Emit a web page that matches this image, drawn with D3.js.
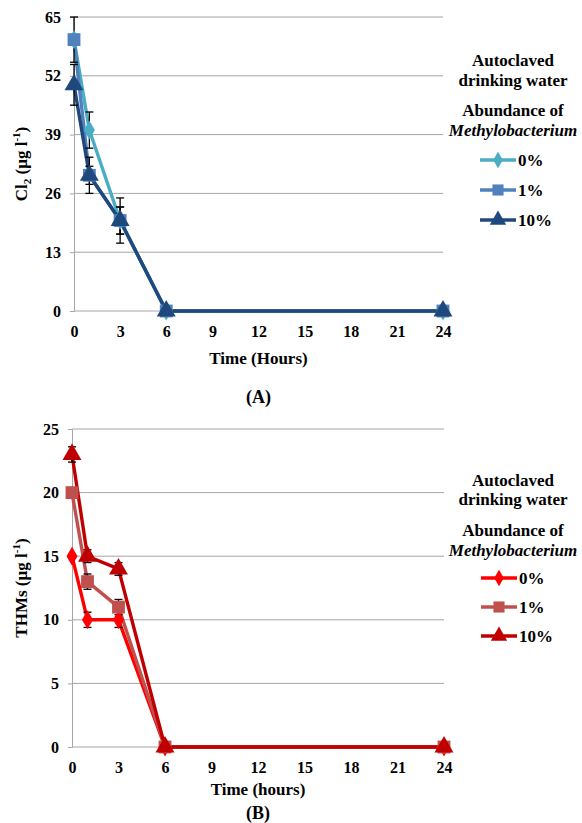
<!DOCTYPE html>
<html>
<head>
<meta charset="utf-8">
<script src="https://cdnjs.cloudflare.com/ajax/libs/d3/7.8.5/d3.min.js"></script>
<style>
  html, body { margin: 0; padding: 0; background: #fff; }
  svg { display: block; }
</style>
</head>
<body>
<svg id="chart" width="582" height="823"></svg>
<script>
// Sampling times (hours)
const hours = [0, 1, 3, 6, 24];
const xTicks = [0, 3, 6, 9, 12, 15, 18, 21, 24];
const abundanceLabels = ["0%", "1%", "10%"];

// Panel A: residual chlorine (µg l-1)
const cl2Ticks = [0, 13, 26, 39, 52, 65];
const cl2_0 = [60, 40, 20, 0, 0];
const cl2_1 = [60, 30, 20, 0, 0];
const cl2_10 = [50, 30, 20, 0, 0];
const cl2Err_0 = [0, 4, 3, 0, 0];
const cl2Err_1 = [5, 2, 5, 0, 0];
const cl2Err_10 = [4.5, 4, 3, 0, 0];
const cl2Colors = ["#4BACC6", "#4F81BD", "#1F497D"];

// Panel B: trihalomethanes (µg l-1)
const thmTicks = [0, 5, 10, 15, 20, 25];
const thm_0 = [15, 10, 10, 0, 0];
const thm_1 = [20, 13, 11, 0, 0];
const thm_10 = [23, 15, 14, 0, 0];
const thmErr_0 = [0, 0.6, 0.6, 0, 0];
const thmErr_1 = [0, 0.6, 0.6, 0, 0];
const thmErr_10 = [0.6, 0.5, 0.5, 0, 0];
const thmColors = ["#FF0000", "#C0504D", "#C00000"];

const markerShapes = [d3.symbolDiamond, d3.symbolSquare, d3.symbolTriangle];
const markerSizes = [105, 165, 155];
const FONT = "'Liberation Serif', 'Times New Roman', serif";

const svg = d3.select("#chart");

function txt(sel) {
  return sel.style("font-family", FONT).style("font-weight", "bold").attr("fill", "#000");
}

function drawPanel(opt) {
  const g = svg.append("g");
  const x = d3.scaleLinear().domain([0, 24]).range([opt.left, opt.right]);
  const y = d3.scaleLinear().domain([0, opt.yMax]).range([opt.bottom, opt.top]);

  // horizontal gridlines
  g.append("g").selectAll("line").data(opt.yTicks).join("line")
    .attr("x1", opt.left).attr("x2", opt.right)
    .attr("y1", d => y(d)).attr("y2", d => y(d))
    .attr("stroke", "#A6A6A6").attr("stroke-width", 1);

  // y axis
  const yAxis = g.append("g").attr("transform", `translate(${opt.left},0)`)
    .call(d3.axisLeft(y).tickValues(opt.yTicks).tickSize(4).tickPadding(9));
  yAxis.select(".domain").attr("stroke", "#A6A6A6");
  yAxis.selectAll(".tick line").attr("stroke", "#A6A6A6");
  txt(yAxis.selectAll(".tick text")).style("font-size", "16px");

  // x axis labels (the zero gridline serves as the baseline)
  const xAxis = g.append("g").attr("transform", `translate(0,${opt.bottom})`)
    .call(d3.axisBottom(x).tickValues(xTicks).tickSize(0).tickPadding(15));
  xAxis.select(".domain").remove();
  txt(xAxis.selectAll(".tick text")).style("font-size", "16px");

  // axis titles
  txt(g.append("text")).attr("x", (opt.left + opt.right) / 2).attr("y", opt.xTitleY)
    .attr("text-anchor", "middle").style("font-size", "17px").text(opt.xTitle);
  txt(g.append("text")).attr("x", (opt.left + opt.right) / 2).attr("y", opt.panelY)
    .attr("text-anchor", "middle").style("font-size", "18px").text(opt.panel);

  const yt = txt(g.append("text"))
    .attr("transform", `translate(${opt.yTitleX},${(opt.top + opt.bottom) / 2}) rotate(-90)`)
    .attr("text-anchor", "middle").style("font-size", "17px");
  yt.append("tspan").text(opt.yTitleMain);
  if (opt.yTitleSub) {
    yt.append("tspan").style("font-size", "11px").attr("dy", 4).text(opt.yTitleSub);
    yt.append("tspan").attr("dy", -4).text(" (µg l");
  } else {
    yt.append("tspan").text(" (µg l");
  }
  yt.append("tspan").style("font-size", "11px").attr("dy", -7).text("-1");
  yt.append("tspan").attr("dy", 7).text(")");

  const series = opt.values.map((vals, i) => ({
    color: opt.colors[i],
    shape: markerShapes[i],
    size: markerSizes[i],
    points: hours.map((h, j) => ({ h, v: vals[j], e: opt.errors[i][j] }))
  }));

  const line = d3.line().x(d => x(d.h)).y(d => y(d.v));

  // lines
  g.append("g").selectAll("path").data(series).join("path")
    .attr("d", s => line(s.points))
    .attr("fill", "none").attr("stroke", s => s.color)
    .attr("stroke-width", 3.4).attr("stroke-linejoin", "round");

  // error bars
  const eb = g.append("g").attr("stroke", "#000").attr("stroke-width", 1.3);
  series.forEach(s => {
    s.points.filter(p => p.e > 0).forEach(p => {
      const cx = x(p.h);
      eb.append("line").attr("x1", cx).attr("x2", cx)
        .attr("y1", y(p.v - p.e)).attr("y2", y(p.v + p.e));
      [p.v - p.e, p.v + p.e].forEach(v => {
        eb.append("line").attr("x1", cx - 4).attr("x2", cx + 4)
          .attr("y1", y(v)).attr("y2", y(v));
      });
    });
  });

  // markers
  series.forEach(s => {
    g.append("g").selectAll("path").data(s.points).join("path")
      .attr("transform", d => `translate(${x(d.h)},${y(d.v)})`)
      .attr("d", d3.symbol().type(s.shape).size(s.size))
      .attr("fill", s.color);
  });

  // legend
  const lg = g.append("g");
  opt.legendHead.forEach(t => {
    txt(lg.append("text")).attr("x", opt.legendX).attr("y", t.y)
      .attr("text-anchor", "middle").attr("dominant-baseline", "central")
      .style("font-size", "17px").style("font-style", t.italic ? "italic" : "normal")
      .text(t.text);
  });
  series.forEach((s, i) => {
    const ly = opt.legendRows[i];
    lg.append("line").attr("x1", opt.legendLine[0]).attr("x2", opt.legendLine[1])
      .attr("y1", ly).attr("y2", ly).attr("stroke", s.color).attr("stroke-width", 3.4);
    lg.append("path")
      .attr("transform", `translate(${(opt.legendLine[0] + opt.legendLine[1]) / 2},${ly})`)
      .attr("d", d3.symbol().type(s.shape).size(s.size * 0.75))
      .attr("fill", s.color);
    txt(lg.append("text")).attr("x", opt.legendLine[1] + 2).attr("y", ly)
      .attr("dominant-baseline", "central").style("font-size", "17px")
      .text(abundanceLabels[i]);
  });
}

drawPanel({
  left: 74, right: 443, top: 17, bottom: 311, yMax: 65, yTicks: cl2Ticks,
  values: [cl2_0, cl2_1, cl2_10], errors: [cl2Err_0, cl2Err_1, cl2Err_10], colors: cl2Colors,
  xTitle: "Time (Hours)", xTitleY: 364, panel: "(A)", panelY: 403,
  yTitleMain: "Cl", yTitleSub: "2", yTitleX: 27,
  legendX: 513, legendLine: [480, 516],
  legendHead: [
    { text: "Autoclaved", y: 60 }, { text: "drinking water", y: 80 },
    { text: "Abundance of", y: 110 }, { text: "Methylobacterium", y: 130, italic: true }
  ],
  legendRows: [160, 190, 220]
});

drawPanel({
  left: 72, right: 444, top: 429, bottom: 747, yMax: 25, yTicks: thmTicks,
  values: [thm_0, thm_1, thm_10], errors: [thmErr_0, thmErr_1, thmErr_10], colors: thmColors,
  xTitle: "Time (hours)", xTitleY: 795, panel: "(B)", panelY: 819,
  yTitleMain: "THMs", yTitleSub: null, yTitleX: 27,
  legendX: 513, legendLine: [481, 517],
  legendHead: [
    { text: "Autoclaved", y: 480 }, { text: "drinking water", y: 499 },
    { text: "Abundance of", y: 530 }, { text: "Methylobacterium", y: 550, italic: true }
  ],
  legendRows: [578, 607, 636]
});
</script>
</body>
</html>
